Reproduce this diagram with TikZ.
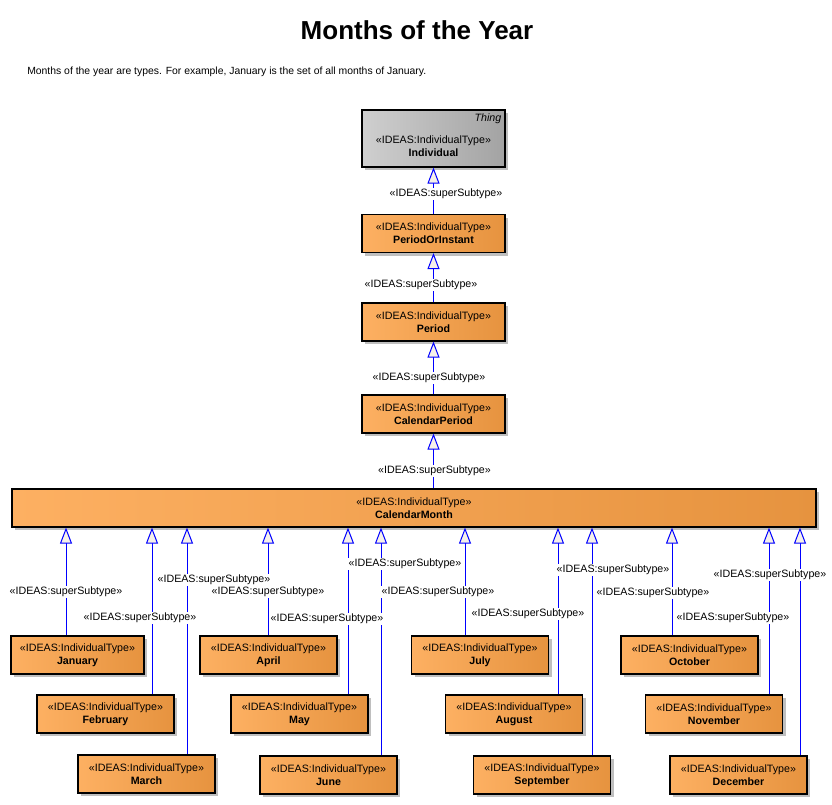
\documentclass[tikz,border=0pt]{standalone}
\usepackage{fontspec}
\setmainfont{Liberation Sans}
\usetikzlibrary{arrows.meta, shadows}

\definecolor{boxlight}{HTML}{FDB062}
\definecolor{boxdark}{HTML}{E6933F}
\definecolor{greylight}{HTML}{CFCFCF}
\definecolor{greydark}{HTML}{A3A3A3}
\definecolor{linkblue}{HTML}{0000FF}
\definecolor{tipfill}{HTML}{F6F1E9}

\begin{document}
\begin{tikzpicture}[x=0.75pt, y=-0.75pt,
  cls/.style={draw, line width=0.9pt, rectangle, left color=boxlight, right color=boxdark,
              minimum width=102.75pt, minimum height=28.5pt, inner sep=0pt, align=center,
              font=\fontsize{8}{9.75}\selectfont,
              drop shadow={shadow xshift=2.5pt, shadow yshift=-2.5pt, fill=black!25, opacity=1}},
  topcls/.style={cls, minimum width=107.25pt},
  thingcls/.style={topcls, left color=greylight, right color=greydark, minimum height=42.75pt},
  gen/.style={draw=linkblue, line width=0.75pt,
              -{Triangle[length=12pt, width=9pt, fill=tipfill, line width=0.75pt]}},
  lbl/.style={fill=white, inner sep=1pt, font=\fontsize{8}{9.75}\selectfont},
]
%% ---- Canvas ----
\fill[white] (0,0) rectangle (832,805);
\useasboundingbox (0,0) rectangle (832,805);

%% ---- Heading ----
\node[font=\fontsize{19.5}{23}\selectfont\bfseries] (title) at (417,30) {Months of the Year};
\node[anchor=west, inner sep=0pt, font=\fontsize{7.8}{9}\selectfont] (desc) at (27,72)
  {Months of the year are types. For example, January is the set of all months of January.};

%% ---- Type chain ----
\node[thingcls, label={[anchor=north east, inner sep=3pt, font=\fontsize{8}{9}\selectfont\itshape]north east:Thing}]
  (ind) at (433.5,138.5) {\mbox{}\\[7pt]«IDEAS:IndividualType»\\\textbf{Individual}};
\node[topcls] (poi) at (433.5,233.5) {«IDEAS:IndividualType»\\\textbf{PeriodOrInstant}};
\node[topcls] (per) at (433.5,322)   {«IDEAS:IndividualType»\\\textbf{Period}};
\node[topcls] (cp)  at (433.5,414)   {«IDEAS:IndividualType»\\\textbf{CalendarPeriod}};
\node[cls, minimum width=603pt] (cm) at (414,508) {«IDEAS:IndividualType»\\\textbf{CalendarMonth}};

%% ---- Months (three staggered rows) ----
\node[cls, minimum width=99.75pt] (jan) at (77.5,655)  {«IDEAS:IndividualType»\\\textbf{January}};
\node[cls] (feb) at (105.5,714) {«IDEAS:IndividualType»\\\textbf{February}};
\node[cls] (mar) at (146.5,774) {«IDEAS:IndividualType»\\\textbf{March}};
\node[cls] (apr) at (268.5,655) {«IDEAS:IndividualType»\\\textbf{April}};
\node[cls] (may) at (299.5,714) {«IDEAS:IndividualType»\\\textbf{May}};
\node[cls] (jun) at (328.5,775) {«IDEAS:IndividualType»\\\textbf{June}};
\node[cls] (jul) at (480,655)   {«IDEAS:IndividualType»\\\textbf{July}};
\node[cls] (aug) at (514,714)   {«IDEAS:IndividualType»\\\textbf{August}};
\node[cls] (sep) at (542,775)   {«IDEAS:IndividualType»\\\textbf{September}};
\node[cls] (oct) at (689.5,655) {«IDEAS:IndividualType»\\\textbf{October}};
\node[cls] (nov) at (714,714)   {«IDEAS:IndividualType»\\\textbf{November}};
\node[cls] (dec) at (738.5,775) {«IDEAS:IndividualType»\\\textbf{December}};

%% ---- Generalisations ----
\draw[gen] (poi.north) -- (ind.south);
\draw[gen] (per.north) -- (poi.south);
\draw[gen] (cp.north)  -- (per.south);
\draw[gen] (cm.north -| cp.south) -- (cp.south);

\draw[gen] (66,0 |- jan.north)  -- (66,0 |- cm.south);
\draw[gen] (152,0 |- feb.north) -- (152,0 |- cm.south);
\draw[gen] (187,0 |- mar.north) -- (187,0 |- cm.south);
\draw[gen] (268,0 |- apr.north) -- (268,0 |- cm.south);
\draw[gen] (348,0 |- may.north) -- (348,0 |- cm.south);
\draw[gen] (381,0 |- jun.north) -- (381,0 |- cm.south);
\draw[gen] (465,0 |- jul.north) -- (465,0 |- cm.south);
\draw[gen] (558,0 |- aug.north) -- (558,0 |- cm.south);
\draw[gen] (592,0 |- sep.north) -- (592,0 |- cm.south);
\draw[gen] (672,0 |- oct.north) -- (672,0 |- cm.south);
\draw[gen] (769,0 |- nov.north) -- (769,0 |- cm.south);
\draw[gen] (800,0 |- dec.north) -- (800,0 |- cm.south);

%% ---- Stereotype labels ----
\node[lbl] (lPOI) at (446,194)   {«IDEAS:superSubtype»};
\node[lbl] (lPER) at (421,285)   {«IDEAS:superSubtype»};
\node[lbl] (lCP)  at (429,378)   {«IDEAS:superSubtype»};
\node[lbl] (lCM)  at (434.5,471) {«IDEAS:superSubtype»};

\node[lbl] (lJan) at (66,592)  {«IDEAS:superSubtype»};
\node[lbl] (lFeb) at (140,618) {«IDEAS:superSubtype»};
\node[lbl] (lMar) at (214,580) {«IDEAS:superSubtype»};
\node[lbl] (lApr) at (268,592) {«IDEAS:superSubtype»};
\node[lbl] (lMay) at (327,619) {«IDEAS:superSubtype»};
\node[lbl] (lJun) at (405,564) {«IDEAS:superSubtype»};
\node[lbl] (lJul) at (438,592) {«IDEAS:superSubtype»};
\node[lbl] (lAug) at (528,614) {«IDEAS:superSubtype»};
\node[lbl] (lSep) at (613,570) {«IDEAS:superSubtype»};
\node[lbl] (lOct) at (653,593) {«IDEAS:superSubtype»};
\node[lbl] (lNov) at (733,618) {«IDEAS:superSubtype»};
\node[lbl] (lDec) at (770,575) {«IDEAS:superSubtype»};
\end{tikzpicture}
\end{document}
